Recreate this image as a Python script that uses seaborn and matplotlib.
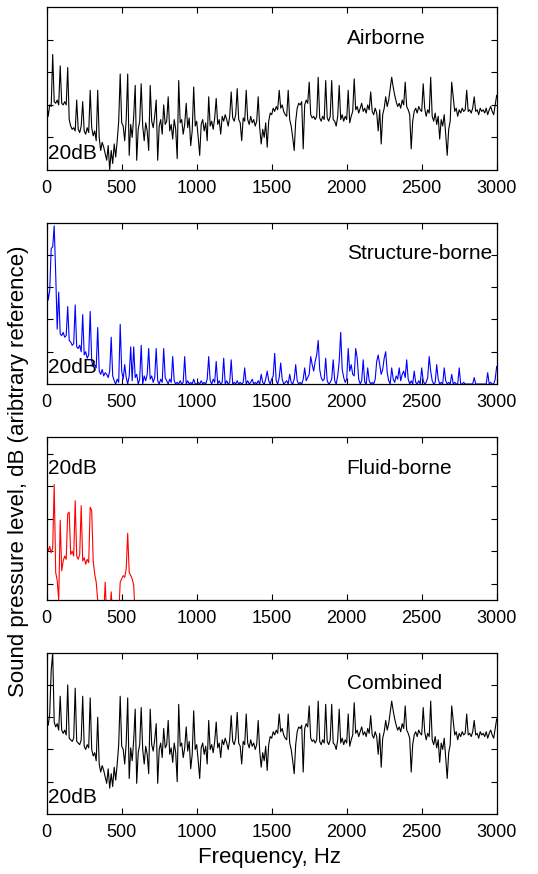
import matplotlib
matplotlib.use("Agg")
import matplotlib.pyplot as plt
import numpy as np
import pandas as pd
import seaborn as sns

# ---------------- data (dB, arbitrary reference; 10 Hz steps) ----------------
freq = list(range(0, 3001, 10))

airborne = [
    41, 33, 40, 39, 71, 42, 41, 43, 40, 64,
    41, 40, 42, 40, 63, 31, 27, 25, 26, 24,
    43, 25, 23, 27, 42, 24, 22, 26, 23, 49,
    26, 21, 24, 18, 49, 20, 12, 17, 14, 10,
    6, 15, 0, 12, 4, 16, 8, 18, 30, 59,
    29, 27, 18, 31, 59, 9, 28, 20, 33, 52,
    6, 25, 30, 53, 27, 18, 29, 24, 12, 52,
    30, 26, 33, 43, 6, 27, 31, 22, 40, 28,
    30, 45, 24, 28, 19, 31, 25, 7, 55, 29,
    31, 22, 28, 41, 26, 32, 15, 24, 51, 27,
    30, 20, 9, 28, 31, 24, 29, 18, 45, 27,
    30, 25, 32, 44, 28, 31, 22, 33, 30, 34,
    31, 27, 33, 48, 32, 30, 34, 50, 31, 29,
    18, 32, 30, 49, 31, 28, 33, 29, 31, 27,
    30, 45, 26, 16, 25, 20, 29, 14, 30, 35,
    34, 38, 36, 39, 37, 49, 38, 40, 36, 34,
    33, 49, 31, 27, 20, 12, 30, 38, 41, 40,
    42, 13, 40, 43, 41, 54, 34, 32, 33, 31,
    33, 57, 32, 30, 33, 31, 55, 32, 30, 33,
    55, 31, 30, 27, 33, 52, 31, 34, 30, 33,
    31, 49, 29, 33, 36, 56, 37, 39, 35, 38,
    41, 36, 38, 35, 40, 37, 48, 36, 34, 38,
    35, 24, 37, 16, 34, 38, 45, 39, 43, 50,
    57, 51, 46, 42, 39, 41, 38, 43, 40, 54,
    39, 37, 34, 13, 30, 36, 38, 35, 39, 37,
    36, 53, 38, 33, 37, 35, 57, 33, 30, 35,
    28, 33, 19, 31, 27, 34, 22, 9, 25, 30,
    54, 45, 36, 38, 33, 37, 35, 38, 36, 37,
    49, 36, 37, 35, 38, 45, 36, 37, 34, 38,
    36, 37, 35, 38, 34, 37, 39, 36, 34, 40,
    46,
]

structure_borne = [
    63, 52, 58, 84, 85, 98, 68, 34, 57, 31,
    30, 32, 29, 30, 48, 27, 26, 24, 25, 49,
    23, 22, 24, 20, 43, 18, 20, 16, 18, 45,
    14, 11, 12, 10, 35, 8, 6, 9, 5, 7,
    6, 4, 8, 29, 5, 2, 0, 3, 1, 37,
    8, 3, 12, 4, 0, 5, 23, 2, 23, 4,
    6, 0, 3, 24, 0, 5, 2, 6, 22, 3,
    5, 1, 4, 22, 2, 0, 3, 1, 22, 4,
    2, 0, 3, 1, 17, 2, 0, 1, 0, 2,
    0, 1, 17, 0, 2, 0, 1, 0, 3, 0,
    0, 1, 0, 2, 0, 1, 0, 3, 17, 2,
    0, 3, 1, 14, 0, 2, 0, 1, 16, 0,
    2, 0, 1, 15, 0, 1, 0, 2, 0, 1,
    0, 1, 10, 0, 2, 0, 1, 3, 0, 1,
    0, 2, 0, 6, 1, 0, 3, 8, 2, 0,
    3, 5, 19, 2, 0, 4, 13, 3, 0, 1,
    2, 0, 6, 1, 0, 3, 12, 2, 0, 1,
    0, 3, 10, 2, 4, 6, 17, 12, 8, 14,
    18, 27, 9, 4, 2, 3, 16, 2, 0, 1,
    3, 15, 2, 0, 5, 14, 32, 9, 4, 1,
    3, 22, 8, 12, 6, 5, 22, 16, 3, 0,
    2, 15, 1, 0, 10, 2, 0, 1, 0, 3,
    14, 18, 12, 6, 9, 16, 20, 7, 2, 0,
    10, 3, 1, 5, 3, 10, 2, 6, 8, 4,
    15, 3, 0, 2, 0, 8, 1, 0, 2, 0,
    10, 2, 0, 1, 4, 17, 8, 2, 0, 1,
    12, 3, 0, 1, 0, 10, 2, 0, 1, 0,
    6, 0, 1, 0, 0, 10, 0, 0, 1, 0,
    0, 0, 0, 0, 0, 4, 0, 0, 0, 0,
    0, 0, 0, 0, 7, 0, 1, 0, 0, 3,
    11,
]

fluid_freq = list(range(0, 600, 10))
fluid_borne = [
    34, 30, 33, 29, 32, 71, 17, 12, 0, 49,
    18, 24, 27, 25, 53, 54, 28, 30, 27, 61,
    27, 25, 28, 58, 24, 26, 22, 25, 23, 57,
    55, 24, 16, 11, 0, -10, -10, -10, -10, 11,
    -10, -10, -10, 5, -10, -10, -10, -10, -10, 11,
    13, 15, 14, 19, 41, 17, 15, 13, 9, -10,
]

combined = [
    60, 55, 62, 89, 100, 57, 54, 56, 52, 73,
    52, 50, 52, 49, 80, 47, 46, 45, 47, 78,
    45, 44, 43, 46, 73, 42, 40, 43, 41, 72,
    40, 36, 38, 33, 60, 31, 26, 30, 27, 23,
    19, 28, 16, 25, 17, 29, 21, 31, 43, 73,
    42, 40, 31, 44, 72, 22, 41, 33, 46, 65,
    19, 38, 43, 66, 40, 31, 42, 37, 25, 65,
    43, 39, 46, 56, 19, 40, 44, 35, 53, 41,
    43, 58, 37, 41, 32, 44, 38, 20, 68, 42,
    44, 35, 41, 54, 39, 45, 28, 37, 64, 40,
    43, 33, 22, 41, 44, 37, 42, 31, 58, 40,
    43, 38, 45, 57, 41, 44, 35, 46, 43, 47,
    44, 40, 46, 61, 45, 43, 47, 63, 44, 42,
    31, 45, 43, 62, 44, 41, 46, 42, 44, 40,
    43, 58, 39, 29, 38, 33, 42, 27, 43, 48,
    47, 51, 49, 52, 50, 62, 51, 53, 49, 47,
    46, 62, 44, 40, 33, 25, 43, 51, 54, 53,
    55, 26, 53, 56, 54, 67, 47, 45, 46, 44,
    46, 70, 45, 43, 46, 44, 68, 45, 43, 46,
    68, 44, 43, 40, 46, 65, 44, 47, 43, 46,
    44, 62, 42, 46, 49, 69, 50, 52, 48, 51,
    54, 49, 51, 48, 53, 50, 61, 49, 47, 51,
    48, 37, 50, 29, 47, 51, 58, 52, 56, 63,
    70, 64, 59, 55, 52, 54, 51, 56, 53, 67,
    52, 50, 47, 26, 43, 49, 51, 48, 52, 50,
    49, 66, 51, 46, 50, 48, 70, 46, 43, 48,
    41, 46, 32, 44, 40, 47, 35, 22, 38, 43,
    67, 58, 49, 51, 46, 50, 48, 51, 49, 50,
    62, 49, 50, 48, 51, 58, 49, 50, 47, 51,
    49, 50, 48, 51, 47, 50, 52, 49, 47, 53,
    59,
]

panel_names = ["Airborne", "Structure-borne", "Fluid-borne", "Combined"]
scale_label = "20dB"
xticks = [0, 500, 1000, 1500, 2000, 2500, 3000]
xlabel = "Frequency, Hz"
ylabel = "Sound pressure level, dB (aribtrary reference)"

# ---------------- style ----------------
sns.set_theme(style="white")
plt.rcParams["font.family"] = ["Liberation Sans", "DejaVu Sans"]
plt.rcParams["text.color"] = "black"

W, H = 538, 874
fig = plt.figure(figsize=(W / 100, H / 100), dpi=100)

# (top, bottom) of each axes in pixels
boxes = [(7.3, 170.0), (222.7, 384.0), (437.3, 600.0), (652.7, 814.0)]
left_px, right_px = 46.7, 496.7

series = [
    (freq, airborne, "black"),
    (freq, structure_borne, "#0000ff"),
    (fluid_freq, fluid_borne, "#ff0000"),
    (freq, combined, "black"),
]
ytick_sets = [[20, 40, 60, 80], [20, 40, 60, 80], [10, 30, 50, 70, 90], [20, 40, 60, 80]]
scale_pos = [10, 10, 81, 10]

for i, ((top, bot), (fx, fy, col)) in enumerate(zip(boxes, series)):
    ax = fig.add_axes([left_px / W, 1 - bot / H, (right_px - left_px) / W, (bot - top) / H])
    df = pd.DataFrame({"f": fx, "L": fy})
    sns.lineplot(data=df, x="f", y="L", ax=ax, color=col, linewidth=0.8,
                 estimator=None, sort=False, legend=False)
    ax.set_xlim(0, 3000)
    ax.set_ylim(0, 100)
    ax.set_xticks(xticks)
    ax.set_xticklabels([str(t) for t in xticks])
    ax.set_yticks(ytick_sets[i])
    ax.set_yticklabels([])
    ax.set_xlabel("")
    ax.set_ylabel("")
    ax.tick_params(axis="both", direction="in", top=True, right=True, bottom=True, left=True,
                   length=4, width=0.8, color="black", labelsize=13, pad=7, labelcolor="black")
    for s in ax.spines.values():
        s.set_visible(True)
        s.set_color("black")
        s.set_linewidth(0.9)
    ax.text(2000, 81, panel_names[i], fontsize=15, ha="left", va="center", color="black")
    ax.text(8, scale_pos[i], scale_label, fontsize=15, ha="left", va="center", color="black")

fig.text(19 / W, 1 - 471 / H, ylabel, rotation=90, ha="center", va="center",
         fontsize=16, color="black")
fig.text(270 / W, 1 - 858 / H, xlabel, ha="center", va="center", fontsize=16, color="black")

fig.savefig("out.png", dpi=100)
